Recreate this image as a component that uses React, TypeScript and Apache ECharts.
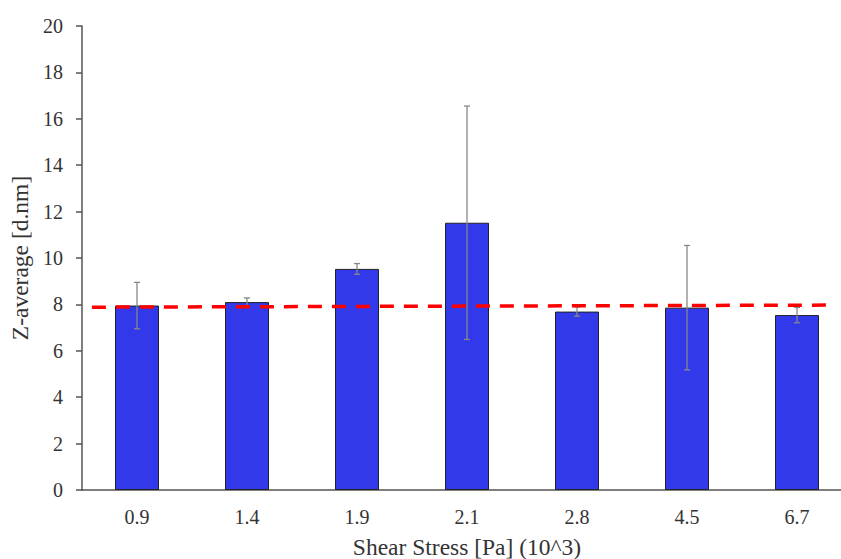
import React, { useEffect, useRef } from "react";
import * as echarts from "echarts";

const categories = ["0.9", "1.4", "1.9", "2.1", "2.8", "4.5", "6.7"];
const zAverage = [7.95, 8.1, 9.53, 11.52, 7.69, 7.86, 7.54];
const errors = [1.0, 0.18, 0.23, 5.03, 0.2, 2.68, 0.33];
const yTicks = [0, 2, 4, 6, 8, 10, 12, 14, 16, 18, 20];
const trendX = [-0.41, 6.27];
const trendY = [7.88, 7.97];

const FONT = "Liberation Serif";

export default function App() {
  const ref = useRef<HTMLDivElement>(null);
  useEffect(() => {
    if (!ref.current) return;
    const chart = echarts.init(ref.current, null, { renderer: "svg" });
    const errData = categories.map((_, i) => [i, zAverage[i] - errors[i], zAverage[i] + errors[i]]);
    chart.setOption({
      animation: false,
      grid: { left: 82, top: 26, width: 770, bottom: 69, containLabel: false, outerBoundsMode: "none" },
      xAxis: [
        {
          type: "category",
          data: categories,
          axisLine: { onZero: false, lineStyle: { color: "#555", width: 1.5 } },
          axisTick: { show: false },
          axisLabel: { color: "#333", fontFamily: FONT, fontSize: 20, margin: 17 },
          name: "Shear Stress [Pa] (10^3)",
          nameLocation: "middle",
          nameGap: 45,
          nameTextStyle: { color: "#333", fontFamily: FONT, fontSize: 23.5 },
        },
        {
          type: "value",
          min: -0.5,
          max: 6.5,
          show: false,
        },
      ],
      yAxis: {
        type: "value",
        min: yTicks[0],
        max: yTicks[yTicks.length - 1],
        interval: 2,
        axisLine: { show: true, onZero: false, lineStyle: { color: "#555", width: 1.5 } },
        axisTick: { show: true, length: 6, lineStyle: { color: "#555", width: 1.5 } },
        splitLine: { show: false },
        axisLabel: { color: "#333", fontFamily: FONT, fontSize: 20, margin: 19 },
        name: "Z-average [d.nm]",
        nameLocation: "middle",
        nameGap: 48,
        nameTextStyle: { color: "#333", fontFamily: FONT, fontSize: 23.5 },
      },
      series: [
        {
          type: "bar",
          data: zAverage,
          barWidth: 44,
          itemStyle: { color: "#3139EB", borderColor: "#222", borderWidth: 1 },
          z: 2,
        },
        {
          type: "custom",
          data: errData,
          z: 3,
          renderItem: (params: any, api: any) => {
            const x = api.value(0);
            const lo = api.coord([x, api.value(1)]);
            const hi = api.coord([x, api.value(2)]);
            const cap = 3;
            const style = { stroke: "#888", lineWidth: 1.3 };
            return {
              type: "group",
              children: [
                { type: "line", shape: { x1: lo[0], y1: lo[1], x2: hi[0], y2: hi[1] }, style },
                { type: "line", shape: { x1: lo[0] - cap, y1: lo[1], x2: lo[0] + cap, y2: lo[1] }, style },
                { type: "line", shape: { x1: hi[0] - cap, y1: hi[1], x2: hi[0] + cap, y2: hi[1] }, style },
              ],
            };
          },
        },
        {
          type: "line",
          xAxisIndex: 1,
          data: trendX.map((x, i) => [x, trendY[i]]),
          symbol: "none",
          lineStyle: { color: "#ff0000", width: 3.5, type: [14, 10] },
          z: 4,
        },
      ],
    });
    return () => chart.dispose();
  }, []);
  return <div ref={ref} style={{ width: 841, height: 559, position: "absolute", left: 0, top: 0 }} />;
}
